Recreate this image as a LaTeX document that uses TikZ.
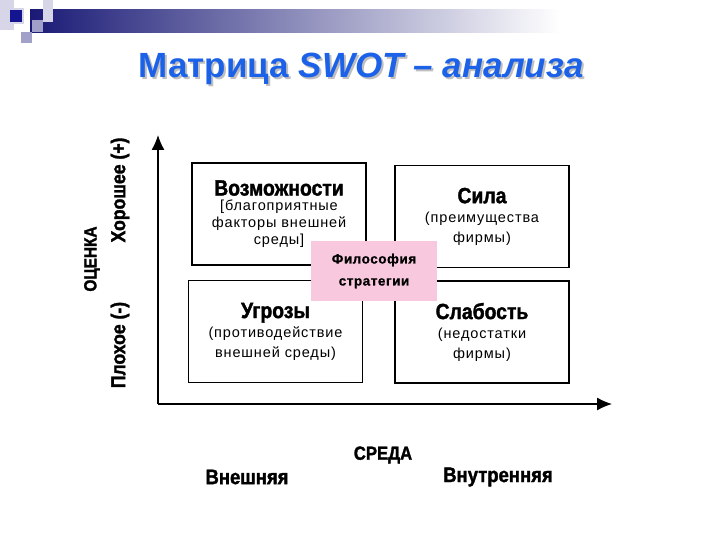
\documentclass[tikz,border=0pt]{standalone}
\usepackage{fontspec}
\setmainfont{Liberation Sans}
\newfontfamily\headfont[FakeStretch=0.88,FakeBold=1.6]{Liberation Sans Bold}
\newfontfamily\bodyfont[LetterSpace=6]{Liberation Sans}
\newfontfamily\pinkfont[LetterSpace=4,FakeBold=0.8]{Liberation Sans Bold}
\usepackage{tikz}
\usetikzlibrary{arrows.meta, positioning}

\definecolor{titleblue}{RGB}{28,98,232}
\definecolor{barnavy}{RGB}{26,26,118}
\definecolor{sqlight}{RGB}{214,214,232}
\definecolor{sqmid}{RGB}{160,160,200}
\definecolor{pinkbox}{RGB}{247,200,222}

\tikzset{
  quad/.style={draw=black, line width=1.3pt, fill=white, align=center,
    minimum width=174pt, minimum height=102pt, inner sep=0pt},
  axislabel/.style={font=\headfont\fontsize{#1}{22}\selectfont},
  axislabel/.default=19,
}

\newcommand{\boxhead}[1]{{\headfont\fontsize{22}{24}\selectfont #1}}
\newcommand{\titletext}{Матрица \textit{SWOT – анализа}}

\begin{document}
\begin{tikzpicture}[x=1pt, y=-1pt]
\useasboundingbox (0,0) rectangle (720,540);
\fill[white] (0,0) rectangle (720,540);

% Top bar
\shade[left color=barnavy, right color=white, middle color=barnavy!50]
  (30,10) rectangle (560,33);
\fill[sqlight] (0,0) rectangle (14,30);
\fill[sqlight] (43,0) rectangle (53,22);
\fill[sqmid] (32,20) rectangle (43,32);
\fill[sqmid] (21,32) rectangle (32,43);
\fill[sqlight] (8,8) rectangle (24,24);
\fill[barnavy!80!blue] (10,10) rectangle (22,22);

% Title (with shadow)
\node (title) [text=titleblue, font=\fontsize{35}{40}\selectfont\bfseries]
  at (361,70) {\makebox[0pt][l]{\hspace{2pt}\raisebox{-2pt}{\color{black!25}\titletext}}\titletext};

% Axes
\coordinate (origin) at (158,404);
\coordinate (ytop) at (158,135);
\coordinate (xend) at (612,404);
\draw[line width=1.2pt, -{Latex[length=15pt, width=13pt]}] (origin) -- (ytop);
\draw[line width=1.2pt, -{Latex[length=15pt, width=13pt]}] (origin) -- (xend);

% Quadrants
\node (opp) [quad, font=\bodyfont\fontsize{14.5}{17}\selectfont] at (279,214)
  {\boxhead{Возможности}\\[-2pt] [благоприятные\\ факторы внешней\\ среды]};
\node (str) [quad, font=\bodyfont\fontsize{14.5}{20}\selectfont] at (482,216.5)
  {\boxhead{Сила}\\[-1pt] (преимущества\\ фирмы)};
\node (thr) [quad, font=\bodyfont\fontsize{14.5}{20}\selectfont] at (275.5,331.5)
  {\boxhead{Угрозы}\\[-1pt] (противодействие\\ внешней среды)};
\node (wea) [quad, font=\bodyfont\fontsize{14.5}{20}\selectfont] at (482,332)
  {\boxhead{Слабость}\\[-1pt] (недостатки\\ фирмы)};

% Centre
\node (phil) [fill=pinkbox, minimum width=126pt, minimum height=60pt,
  align=center, font=\pinkfont\fontsize{13.5}{22}\selectfont]
  at (374,271) {Философия\\ стратегии};

% Axis labels
\node (eval) [axislabel=17.5, rotate=90] at (92,259) {ОЦЕНКА};
\node (good) [axislabel=20, rotate=90] at (120,190) {Хорошее (+)};
\node (bad) [axislabel=20, rotate=90] at (120,345) {Плохое (-)};
\node (env) [axislabel=19] at (383,455) {СРЕДА};
\node (ext) [axislabel=21] at (247,477) {Внешняя};
\node (int) [axislabel=21] at (498,477) {Внутренняя};

\end{tikzpicture}
\end{document}
